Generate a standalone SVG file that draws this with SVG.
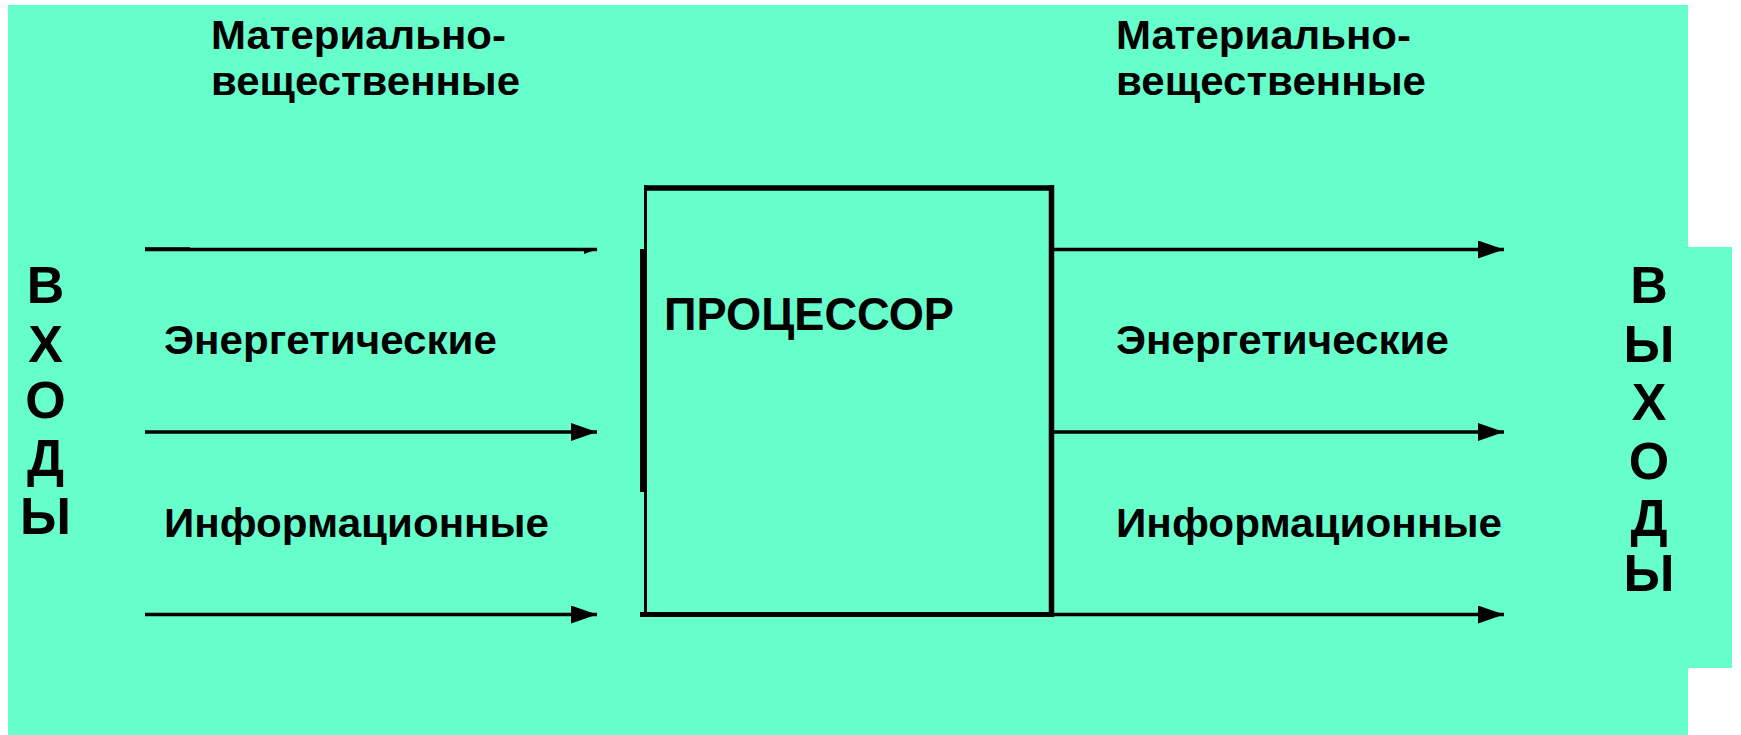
<svg xmlns="http://www.w3.org/2000/svg" width="1741" height="735" viewBox="0 0 1741 735">
<style>
text{font-family:"Liberation Sans",Arial,sans-serif;font-weight:bold;fill:#000}
.lbl{font-size:40px}
.big{font-size:52px}
.conn{stroke:#000;stroke-width:3.5;fill:none}
.box{stroke:#000;fill:none}
</style>
<defs>
<marker id="ah" markerUnits="userSpaceOnUse" markerWidth="26" markerHeight="18" refX="26" refY="9" orient="auto">
<path d="M0,0 L26,9 L0,18 Z" fill="#000"/>
</marker>
</defs>
<polygon id="background" points="8,5 1688,5 1688,247 1732,247 1732,668 1688,668 1688,735 8,735" fill="#66ffcc"/>
<g id="inputs-label">
<text class="big" x="45.5" y="303" text-anchor="middle">В</text>
<text class="big" x="45.5" y="362" text-anchor="middle">Х</text>
<text class="big" x="45.5" y="418" text-anchor="middle">О</text>
<text class="big" x="45.5" y="476" text-anchor="middle">Д</text>
<text class="big" x="45.5" y="534" text-anchor="middle">Ы</text>
</g>
<g id="outputs-label">
<text class="big" x="1649" y="303" text-anchor="middle">В</text>
<text class="big" x="1649" y="362" text-anchor="middle">Ы</text>
<text class="big" x="1649" y="420" text-anchor="middle">Х</text>
<text class="big" x="1649" y="479" text-anchor="middle">О</text>
<text class="big" x="1649" y="536" text-anchor="middle">Д</text>
<text class="big" x="1649" y="591" text-anchor="middle">Ы</text>
</g>
<g id="in-labels">
<text class="lbl" x="211" y="49" textLength="295" lengthAdjust="spacingAndGlyphs">Материально-</text>
<text class="lbl" x="211" y="95" textLength="309" lengthAdjust="spacingAndGlyphs">вещественные</text>
<text class="lbl" x="164" y="354" textLength="333" lengthAdjust="spacingAndGlyphs">Энергетические</text>
<text class="lbl" x="164" y="537" textLength="385" lengthAdjust="spacingAndGlyphs">Информационные</text>
</g>
<g id="out-labels">
<text class="lbl" x="1116" y="49" textLength="295" lengthAdjust="spacingAndGlyphs">Материально-</text>
<text class="lbl" x="1116" y="95" textLength="310" lengthAdjust="spacingAndGlyphs">вещественные</text>
<text class="lbl" x="1116" y="354" textLength="333" lengthAdjust="spacingAndGlyphs">Энергетические</text>
<text class="lbl" x="1116" y="537" textLength="386" lengthAdjust="spacingAndGlyphs">Информационные</text>
</g>
<g id="processor">
<line class="box" x1="644" y1="188" x2="1054" y2="188" stroke-width="5.5"/>
<line class="box" x1="1051.5" y1="185" x2="1051.5" y2="617" stroke-width="5.5"/>
<line class="box" x1="640" y1="614.5" x2="1054" y2="614.5" stroke-width="5"/>
<line class="box" x1="645.5" y1="185" x2="645.5" y2="617" stroke-width="3"/>
<line class="box" x1="643" y1="249" x2="643" y2="492" stroke-width="6"/>
<text x="664" y="330" style="font-size:47px" textLength="290" lengthAdjust="spacingAndGlyphs">ПРОЦЕССОР</text>
</g>
<g id="connectors">
<line class="conn" x1="145" y1="249.5" x2="597" y2="249.5" stroke-width="2"/>
<line class="conn" x1="145" y1="249" x2="190" y2="249" stroke-width="2"/>
<polygon points="584,249 598,249 584,254" fill="#000"/>
<line class="conn" x1="145" y1="432" x2="597" y2="432" marker-end="url(#ah)"/>
<line class="conn" x1="145" y1="614.5" x2="597" y2="614.5" marker-end="url(#ah)"/>
<line class="conn" x1="1054" y1="249.5" x2="1504" y2="249.5" marker-end="url(#ah)"/>
<line class="conn" x1="1054" y1="432" x2="1504" y2="432" marker-end="url(#ah)"/>
<line class="conn" x1="1054" y1="614.5" x2="1504" y2="614.5" marker-end="url(#ah)"/>
</g>
</svg>
